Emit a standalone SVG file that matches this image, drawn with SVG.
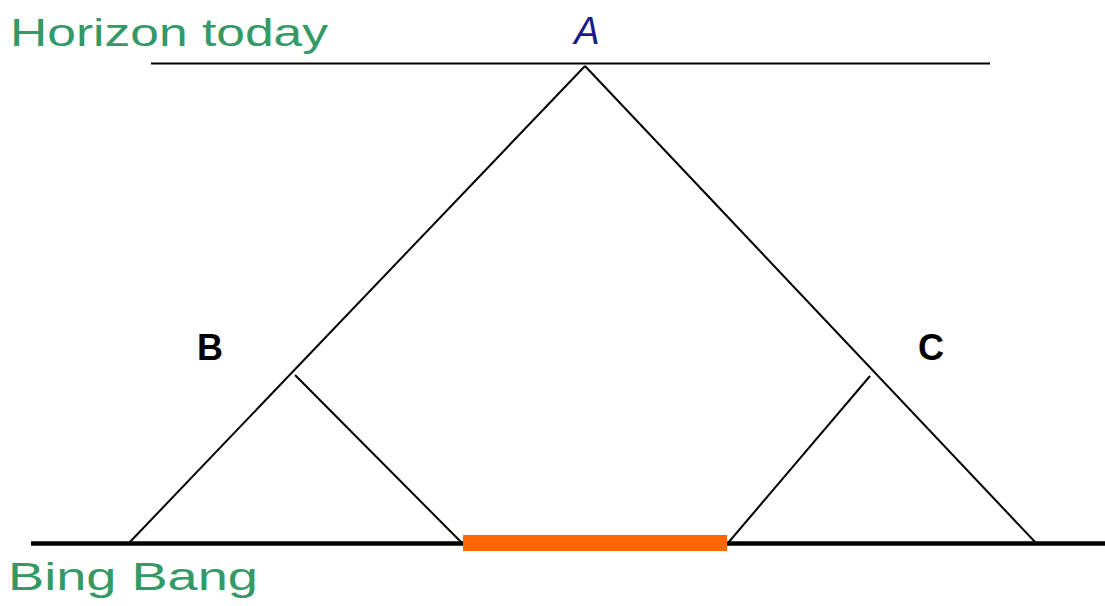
<svg xmlns="http://www.w3.org/2000/svg" width="1105" height="606" viewBox="0 0 1105 606">
<style>
.lbl{font-family:"Liberation Sans","DejaVu Sans",sans-serif;}
.green{fill:#339966;font-size:38px;}
.pt{fill:#000;font-size:36px;}
.thin{stroke:#000;stroke-width:2;fill:none;}
</style>
<rect width="1105" height="606" fill="#fff"/>
<g id="connectors">
<line class="thin" x1="151" y1="63.5" x2="990" y2="63.5" stroke-width="2.5"/>
<line x1="31" y1="543.5" x2="1105" y2="543.5" stroke="#000" stroke-width="4.5"/>
<line class="thin" x1="585" y1="66" x2="129" y2="543"/>
<line class="thin" x1="585" y1="66" x2="1036" y2="543"/>
<line class="thin" x1="295" y1="375" x2="462" y2="543"/>
<line class="thin" x1="870" y1="376" x2="728" y2="543"/>
</g>
<g id="orange-bar"><rect x="463" y="535" width="264" height="16" fill="#ff6600"/></g>
<g id="horizon-label"><text class="lbl green" x="10" y="46" textLength="318" lengthAdjust="spacingAndGlyphs">Horizon today</text></g>
<g id="bigbang-label"><text class="lbl green" x="8" y="590" textLength="250" lengthAdjust="spacingAndGlyphs">Bing Bang</text></g>
<g id="A"><text class="lbl" x="587" y="44" text-anchor="middle" font-size="38" font-style="italic" fill="#1a1a8c">A</text></g>
<g id="B"><text class="lbl pt" x="210" y="360" text-anchor="middle" font-weight="bold">B</text></g>
<g id="C"><text class="lbl pt" x="931" y="360" text-anchor="middle" font-weight="bold">C</text></g>
</svg>
